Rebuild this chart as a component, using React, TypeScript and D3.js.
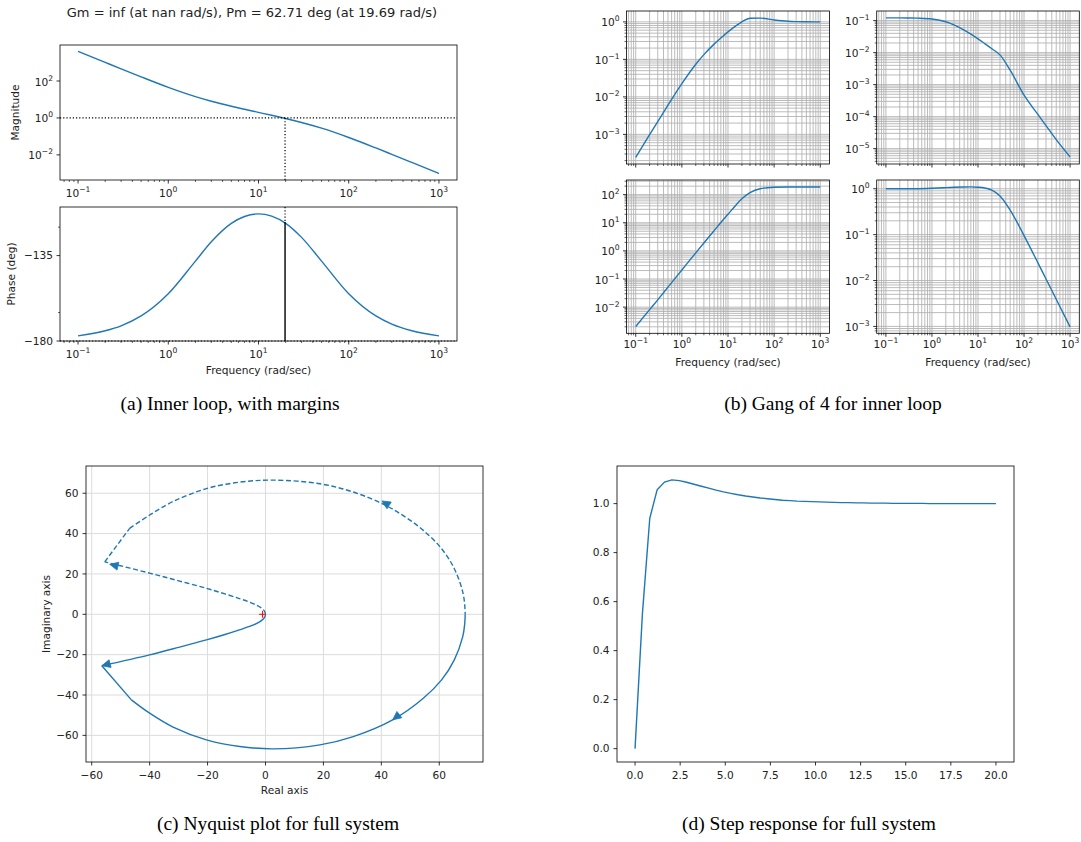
import React from 'react';
import * as d3 from 'd3';

const FONT = "'DejaVu Sans', sans-serif";
const SERIF = "'Liberation Serif', 'Times New Roman', serif";
const BLUE = '#1f77b4';
const TXT = '#222';
const FS = 10.6;

// ---------- (a) Bode of inner loop ----------
const bodeFreq = [0.1, 0.2, 0.3, 0.5, 1, 2, 3, 5, 7, 10, 14, 20, 30, 50, 100, 200, 300, 500, 1000];
const bodeMag = [4074, 1023, 457, 168, 45.4, 14.3, 8.04, 4.29, 2.94, 2.0, 1.39, 0.929, 0.569, 0.279, 0.0877, 0.0237, 0.0107, 0.00389, 0.000977];
const bodePhase = [-177.3, -174.6, -172.0, -166.8, -155.1, -137.9, -127.7, -118.0, -114.4, -113.0, -114.2, -118.0, -125.4, -137.9, -155.1, -166.8, -171.1, -174.6, -177.3];
const crossFreq = 19.69;
const crossPhase = -117.29;
const titleText = 'Gm = inf (at nan rad/s), Pm = 62.71 deg (at 19.69 rad/s)';
const magTickExps = [-2, 0, 2];
const phaseTicks = [-180, -135];
const phaseMinorTicks = [-165, -120];

// ---------- (b) Gang of 4 ----------
const gangS = [2.45e-4, 9.79e-4, 2.19e-3, 6.0e-3, 0.0225, 0.074, 0.134, 0.255, 0.372, 0.541, 0.75, 1.005, 1.245, 1.259, 1.122, 1.035, 1.014, 1.005, 1.001];
const gangPS = [0.1216, 0.1213, 0.1208, 0.1191, 0.1117, 0.0918, 0.0738, 0.0506, 0.0377, 0.0269, 0.0191, 0.0132, 0.00851, 0.00282, 4.68e-4, 1.17e-4, 5.25e-5, 1.91e-5, 5.5e-6];
const gangCS = [2.04e-3, 8.13e-3, 0.0182, 0.0513, 0.209, 0.851, 1.91, 5.25, 10.2, 20.0, 38.0, 70.8, 117, 162, 182, 186, 186, 186, 186];
const gangT = [1.0, 1.0, 1.0, 1.002, 1.022, 1.056, 1.077, 1.094, 1.097, 1.079, 1.039, 0.934, 0.698, 0.343, 0.0953, 0.0243, 0.0108, 0.00391, 0.000977];

// ---------- (c) Nyquist ----------
const nyqTailRe = [0, -0.3, -1.3, -3, -5.5, -9, -14, -20.4, -30, -40, -56.5];
const nyqTailIm = [-0.2, -1.5, -3.0, -4.5, -6.0, -7.7, -10, -12.7, -16.4, -20.1, -25.5];
const nyqLinkRe = [-56.5, -46.3];
const nyqLinkIm = [-25.5, -42.4];
const nyqArcRe = [-46.3, -40, -31.9, -20.4, -8.9, 2.6, 18.8, 30.3, 43.9, 54.5, 60.8, 65.2, 68.1, 68.8, 68.95];
const nyqArcIm = [-42.4, -49, -55.9, -62.2, -65.5, -66.7, -64.7, -60.6, -52.3, -41.6, -32.5, -22.6, -11.1, -4.5, 0];
const mirTailRe = [0, -0.3, -1.3, -3, -5.5, -9, -14, -20.4, -30, -40, -55.5];
const mirTailIm = [0.2, 1.5, 3.0, 4.5, 6.0, 7.8, 10.1, 12.9, 16.6, 20.4, 26.0];
const mirLinkRe = [-55.5, -46.9];
const mirLinkIm = [26.0, 42.6];
const mirArcRe = [-46.9, -40, -31.9, -20.4, -8.9, 2.6, 18.8, 30.3, 41.2, 48.5, 54.5, 60.8, 65.2, 68.1, 68.8, 68.95];
const mirArcIm = [42.6, 49.2, 55.9, 62.3, 65.5, 66.5, 64.7, 60.6, 54.2, 48.0, 41.6, 32.5, 22.6, 11.1, 4.5, 0];
const arrowRe = [-56.5, 43.9, 40.2, -53.8];
const arrowIm = [-25.5, -52.3, 56.2, 24.8];
const arrowFromRe = [-46, 50, 46.5, -44];
const arrowFromIm = [-21.6, -45.5, 50.5, 21.5];
const nyqTicks = [-60, -40, -20, 0, 20, 40, 60];

// ---------- (d) Step ----------
const stepT = [0, 0.408, 0.816, 1.224, 1.633, 2.041, 2.449, 2.857, 3.265, 3.673, 4.082, 4.49, 4.898, 5.306, 5.714, 6.122, 6.531, 6.939, 7.347, 7.755, 8.163, 8.571, 8.98, 9.388, 9.796, 10.204, 10.612, 11.02, 11.429, 11.837, 12.245, 12.653, 13.061, 13.469, 13.878, 14.286, 14.694, 15.102, 15.51, 15.918, 16.327, 16.735, 17.143, 17.551, 17.959, 18.367, 18.776, 19.184, 19.592, 20.0];
const stepY = [0, 0.55, 0.94, 1.056, 1.088, 1.097, 1.094, 1.087, 1.079, 1.071, 1.063, 1.055, 1.048, 1.042, 1.036, 1.031, 1.027, 1.023, 1.02, 1.017, 1.014, 1.012, 1.01, 1.009, 1.008, 1.007, 1.006, 1.005, 1.004, 1.004, 1.003, 1.003, 1.002, 1.002, 1.002, 1.001, 1.001, 1.001, 1.001, 1.001, 1.0, 1.0, 1.0, 1.0, 1.0, 1.0, 1.0, 1.0, 1.0, 1.0];
const stepXTicks = [0, 2.5, 5, 7.5, 10, 12.5, 15, 17.5, 20];
const stepYTicks = [0, 0.2, 0.4, 0.6, 0.8, 1.0];

const captions = ['(a) Inner loop, with margins', '(b) Gang of 4 for inner loop', '(c) Nyquist plot for full system', '(d) Step response for full system'];

const minus = (s: string) => s.replace('-', '\u2212');

function logTicks(lo: number, hi: number) {
  const majors: number[] = [];
  const minors: number[] = [];
  const e0 = Math.floor(Math.log10(lo));
  const e1 = Math.ceil(Math.log10(hi));
  for (let e = e0; e <= e1; e++) {
    const b = Math.pow(10, e);
    if (b >= lo * 0.9999 && b <= hi * 1.0001) majors.push(e);
    for (let m = 2; m <= 9; m++) {
      const v = m * b;
      if (v >= lo && v <= hi) minors.push(v);
    }
  }
  return { majors, minors };
}

function Pow10({ x, y, e, anchor }: { x: number; y: number; e: number; anchor: string }) {
  return (
    <text x={x} y={y} textAnchor={anchor as any} fontSize={FS} fontFamily={FONT} fill={TXT}>
      10<tspan dy={-5} fontSize={7.6}>{e < 0 ? '\u2212' + -e : String(e)}</tspan>
    </text>
  );
}

function Frame({ x0, x1, y0, y1 }: any) {
  return <rect x={x0} y={y0} width={x1 - x0} height={y1 - y0} fill="none" stroke="#000" strokeWidth={0.8} />;
}

function LogXAxis({ sx, y, labels, labelDy }: any) {
  const [lo, hi] = sx.domain();
  const { majors, minors } = logTicks(lo, hi);
  return (
    <g>
      {minors.map((v: number, i: number) => (
        <line key={'m' + i} x1={sx(v)} x2={sx(v)} y1={y} y2={y + 2} stroke="#000" strokeWidth={0.6} />
      ))}
      {majors.map((e: number) => (
        <g key={'M' + e}>
          <line x1={sx(Math.pow(10, e))} x2={sx(Math.pow(10, e))} y1={y} y2={y + 3.5} stroke="#000" strokeWidth={0.8} />
          {labels && <Pow10 x={sx(Math.pow(10, e))} y={y + labelDy} e={e} anchor="middle" />}
        </g>
      ))}
    </g>
  );
}

function GangPanel({ x0, x1, y0, y1, eLo, eHi, values, xlabels }: any) {
  const sx = d3.scaleLog().domain([Math.pow(10, -1.2), Math.pow(10, 3.2)]).range([x0, x1]);
  const sy = d3.scaleLog().domain([Math.pow(10, eLo), Math.pow(10, eHi)]).range([y1, y0]);
  const xt = logTicks(Math.pow(10, -1.2), Math.pow(10, 3.2));
  const yt = logTicks(Math.pow(10, eLo), Math.pow(10, eHi));
  const xs = [...xt.majors.map((e) => Math.pow(10, e)), ...xt.minors];
  const ys = [...yt.majors.map((e) => Math.pow(10, e)), ...yt.minors];
  const line = d3
    .line<number>()
    .x((_, i) => sx(bodeFreq[i]))
    .y((d) => sy(d))
    .curve(d3.curveMonotoneX);
  return (
    <g>
      {xs.map((v, i) => (
        <line key={'gx' + i} x1={sx(v)} x2={sx(v)} y1={y0} y2={y1} stroke="#b0b0b0" strokeWidth={0.85} />
      ))}
      {ys.map((v, i) => (
        <line key={'gy' + i} x1={x0} x2={x1} y1={sy(v)} y2={sy(v)} stroke="#b0b0b0" strokeWidth={0.85} />
      ))}
      <path d={line(values) || ''} fill="none" stroke={BLUE} strokeWidth={1.4} />
      <Frame x0={x0} x1={x1} y0={y0} y1={y1} />
      <LogXAxis sx={sx} y={y1} labels={xlabels} labelDy={15} />
      {yt.minors.map((v, i) => (
        <line key={'ym' + i} x1={x0 - 2} x2={x0} y1={sy(v)} y2={sy(v)} stroke="#000" strokeWidth={0.6} />
      ))}
      {yt.majors.map((e) => (
        <g key={'yM' + e}>
          <line x1={x0 - 3.5} x2={x0} y1={sy(Math.pow(10, e))} y2={sy(Math.pow(10, e))} stroke="#000" strokeWidth={0.8} />
          <Pow10 x={x0 - 7} y={sy(Math.pow(10, e)) + 4.5} e={e} anchor="end" />
        </g>
      ))}
      {xlabels && (
        <text x={(x0 + x1) / 2} y={y1 + 33} textAnchor="middle" fontSize={FS} fontFamily={FONT} fill={TXT}>
          Frequency (rad/sec)
        </text>
      )}
    </g>
  );
}

function PanelA() {
  const x0 = 60, x1 = 457;
  const my0 = 45, my1 = 180;
  const py0 = 207, py1 = 341;
  const sx = d3.scaleLog().domain([Math.pow(10, -1.2), Math.pow(10, 3.2)]).range([x0, x1]);
  const sm = d3.scaleLog().domain([Math.pow(10, -3.36), Math.pow(10, 3.95)]).range([my1, my0]);
  const sp = d3.scaleLinear().domain([-180, -109.4]).range([py1, py0]);
  const magLine = d3.line<number>().x((_, i) => sx(bodeFreq[i])).y((d) => sm(d)).curve(d3.curveMonotoneX);
  const phLine = d3.line<number>().x((_, i) => sx(bodeFreq[i])).y((d) => sp(d)).curve(d3.curveMonotoneX);
  const xc = sx(crossFreq);
  return (
    <g>
      <text x={252} y={17} textAnchor="middle" fontSize={13} fontFamily={FONT} fill={TXT}>
        {titleText}
      </text>
      {/* magnitude */}
      <path d={magLine(bodeMag) || ''} fill="none" stroke={BLUE} strokeWidth={1.4} />
      <line x1={x0} x2={x1} y1={sm(1)} y2={sm(1)} stroke="#000" strokeWidth={1.2} strokeDasharray="1.2,2" />
      <line x1={xc} x2={xc} y1={sm(1)} y2={my1} stroke="#000" strokeWidth={1.2} strokeDasharray="1.2,2" />
      <Frame x0={x0} x1={x1} y0={my0} y1={my1} />
      <LogXAxis sx={sx} y={my1} labels={true} labelDy={16.5} />
      {magTickExps.map((e) => (
        <g key={e}>
          <line x1={x0 - 3.5} x2={x0} y1={sm(Math.pow(10, e))} y2={sm(Math.pow(10, e))} stroke="#000" strokeWidth={0.8} />
          <Pow10 x={x0 - 7} y={sm(Math.pow(10, e)) + 4.5} e={e} anchor="end" />
        </g>
      ))}
      <text transform={`translate(19,${(my0 + my1) / 2}) rotate(-90)`} textAnchor="middle" fontSize={FS} fontFamily={FONT} fill={TXT}>
        Magnitude
      </text>
      {/* phase */}
      <path d={phLine(bodePhase) || ''} fill="none" stroke={BLUE} strokeWidth={1.4} />
      <line x1={x0} x2={x1} y1={sp(-180)} y2={sp(-180)} stroke="#000" strokeWidth={1.2} strokeDasharray="1.2,2" />
      <line x1={xc} x2={xc} y1={py0} y2={sp(crossPhase)} stroke="#000" strokeWidth={1.2} strokeDasharray="1.2,2" />
      <line x1={xc} x2={xc} y1={sp(crossPhase)} y2={sp(-180)} stroke="#000" strokeWidth={1.4} />
      <Frame x0={x0} x1={x1} y0={py0} y1={py1} />
      <LogXAxis sx={sx} y={py1} labels={true} labelDy={16.5} />
      {phaseTicks.map((v) => (
        <g key={v}>
          <line x1={x0 - 3.5} x2={x0} y1={sp(v)} y2={sp(v)} stroke="#000" strokeWidth={0.8} />
          <text x={x0 - 7} y={sp(v) + 3.8} textAnchor="end" fontSize={FS} fontFamily={FONT} fill={TXT}>
            {minus(String(v))}
          </text>
        </g>
      ))}
      {phaseMinorTicks.map((v) => (
        <line key={v} x1={x0 - 2} x2={x0} y1={sp(v)} y2={sp(v)} stroke="#000" strokeWidth={0.6} />
      ))}
      <text transform={`translate(15,${(py0 + py1) / 2}) rotate(-90)`} textAnchor="middle" fontSize={FS} fontFamily={FONT} fill={TXT}>
        Phase (deg)
      </text>
      <text x={(x0 + x1) / 2} y={374} textAnchor="middle" fontSize={FS} fontFamily={FONT} fill={TXT}>
        Frequency (rad/sec)
      </text>
    </g>
  );
}

function PanelC() {
  const x0 = 86, x1 = 483, y0 = 466, y1 = 762;
  const sx = d3.scaleLinear().domain([-61.97, 75.1]).range([x0, x1]);
  const sy = d3.scaleLinear().domain([-73.2, 73.5]).range([y1, y0]);
  const mk = (re: number[], im: number[], curve: any) =>
    d3.line<number>().x((d) => sx(d)).y((_, i) => sy(im[i])).curve(curve)(re) || '';
  const arrows = arrowRe.map((r, i) => {
    const tx = sx(r), ty = sy(arrowIm[i]);
    const fx = sx(arrowFromRe[i]), fy = sy(arrowFromIm[i]);
    const dx = tx - fx, dy = ty - fy;
    const len = Math.hypot(dx, dy);
    const ux = dx / len, uy = dy / len;
    const L = 8.5, w = 4;
    const bx = tx - ux * L, by = ty - uy * L;
    return `M${tx},${ty}L${bx - uy * w},${by + ux * w}L${bx + uy * w},${by - ux * w}Z`;
  });
  return (
    <g>
      {nyqTicks.map((v) => (
        <g key={v}>
          <line x1={sx(v)} x2={sx(v)} y1={y0} y2={y1} stroke="#dcdcdc" strokeWidth={1} />
          <line x1={x0} x2={x1} y1={sy(v)} y2={sy(v)} stroke="#dcdcdc" strokeWidth={1} />
        </g>
      ))}
      <path d={mk(nyqTailRe, nyqTailIm, d3.curveCatmullRom)} fill="none" stroke={BLUE} strokeWidth={1.4} />
      <path d={mk(nyqLinkRe, nyqLinkIm, d3.curveLinear)} fill="none" stroke={BLUE} strokeWidth={1.4} />
      <path d={mk(nyqArcRe, nyqArcIm, d3.curveCatmullRom)} fill="none" stroke={BLUE} strokeWidth={1.4} />
      <path d={mk(mirTailRe, mirTailIm, d3.curveCatmullRom)} fill="none" stroke={BLUE} strokeWidth={1.4} strokeDasharray="5,2.6" />
      <path d={mk(mirLinkRe, mirLinkIm, d3.curveLinear)} fill="none" stroke={BLUE} strokeWidth={1.4} strokeDasharray="5,2.6" />
      <path d={mk(mirArcRe, mirArcIm, d3.curveCatmullRom)} fill="none" stroke={BLUE} strokeWidth={1.4} strokeDasharray="5,2.6" />
      {arrows.map((d, i) => (
        <path key={i} d={d} fill={BLUE} stroke={BLUE} strokeWidth={0.8} />
      ))}
      <g stroke="red" strokeWidth={1}>
        <line x1={sx(-1) - 3.5} x2={sx(-1) + 3.5} y1={sy(0)} y2={sy(0)} />
        <line x1={sx(-1)} x2={sx(-1)} y1={sy(0) - 3.5} y2={sy(0) + 3.5} />
      </g>
      <Frame x0={x0} x1={x1} y0={y0} y1={y1} />
      {nyqTicks.map((v) => (
        <g key={'t' + v}>
          <line x1={sx(v)} x2={sx(v)} y1={y1} y2={y1 + 3.5} stroke="#000" strokeWidth={0.8} />
          <text x={sx(v)} y={y1 + 17} textAnchor="middle" fontSize={FS} fontFamily={FONT} fill={TXT}>
            {minus(String(v))}
          </text>
          <line x1={x0 - 3.5} x2={x0} y1={sy(v)} y2={sy(v)} stroke="#000" strokeWidth={0.8} />
          <text x={x0 - 7.5} y={sy(v) + 3.8} textAnchor="end" fontSize={FS} fontFamily={FONT} fill={TXT}>
            {minus(String(v))}
          </text>
        </g>
      ))}
      <text x={(x0 + x1) / 2} y={794} textAnchor="middle" fontSize={FS} fontFamily={FONT} fill={TXT}>
        Real axis
      </text>
      <text transform={`translate(50,${(y0 + y1) / 2}) rotate(-90)`} textAnchor="middle" fontSize={FS} fontFamily={FONT} fill={TXT}>
        Imaginary axis
      </text>
    </g>
  );
}

function PanelD() {
  const x0 = 617, x1 = 1014, y0 = 466, y1 = 762;
  const sx = d3.scaleLinear().domain([-1, 21]).range([x0, x1]);
  const sy = d3.scaleLinear().domain([-0.0545, 1.1535]).range([y1, y0]);
  const line = d3.line<number>().x((d) => sx(d)).y((_, i) => sy(stepY[i]));
  return (
    <g>
      <path d={line(stepT) || ''} fill="none" stroke={BLUE} strokeWidth={1.4} />
      <Frame x0={x0} x1={x1} y0={y0} y1={y1} />
      {stepXTicks.map((v) => (
        <g key={'x' + v}>
          <line x1={sx(v)} x2={sx(v)} y1={y1} y2={y1 + 3.5} stroke="#000" strokeWidth={0.8} />
          <text x={sx(v)} y={y1 + 17} textAnchor="middle" fontSize={FS} fontFamily={FONT} fill={TXT}>
            {v.toFixed(1)}
          </text>
        </g>
      ))}
      {stepYTicks.map((v) => (
        <g key={'y' + v}>
          <line x1={x0 - 3.5} x2={x0} y1={sy(v)} y2={sy(v)} stroke="#000" strokeWidth={0.8} />
          <text x={x0 - 7.5} y={sy(v) + 3.8} textAnchor="end" fontSize={FS} fontFamily={FONT} fill={TXT}>
            {v.toFixed(1)}
          </text>
        </g>
      ))}
    </g>
  );
}

export default function App() {
  return (
    <div style={{ position: 'absolute', left: 0, top: 0 }}>
      <svg width={1081} height={842} viewBox="0 0 1081 842" style={{ display: 'block', background: '#fff' }}>
        <rect x={0} y={0} width={1081} height={842} fill="#fff" />
        <PanelA />
        <GangPanel x0={626.5} x1={829.5} y0={11} y1={164} eLo={-3.79} eHi={0.29} values={gangS} xlabels={false} />
        <GangPanel x0={876.7} x1={1079.3} y0={11} y1={164} eLo={-5.48} eHi={-0.70} values={gangPS} xlabels={false} />
        <GangPanel x0={626.5} x1={829.5} y0={180} y1={333.3} eLo={-2.93} eHi={2.52} values={gangCS} xlabels={true} />
        <GangPanel x0={876.7} x1={1079.3} y0={180} y1={333.3} eLo={-3.15} eHi={0.19} values={gangT} xlabels={true} />
        <PanelC />
        <PanelD />
        <text x={230} y={410} textAnchor="middle" fontSize={19.5} fontFamily={SERIF} fill="#000">{captions[0]}</text>
        <text x={833} y={410} textAnchor="middle" fontSize={19.5} fontFamily={SERIF} fill="#000">{captions[1]}</text>
        <text x={278} y={830} textAnchor="middle" fontSize={19.5} fontFamily={SERIF} fill="#000">{captions[2]}</text>
        <text x={809} y={830} textAnchor="middle" fontSize={19.5} fontFamily={SERIF} fill="#000">{captions[3]}</text>
      </svg>
    </div>
  );
}
